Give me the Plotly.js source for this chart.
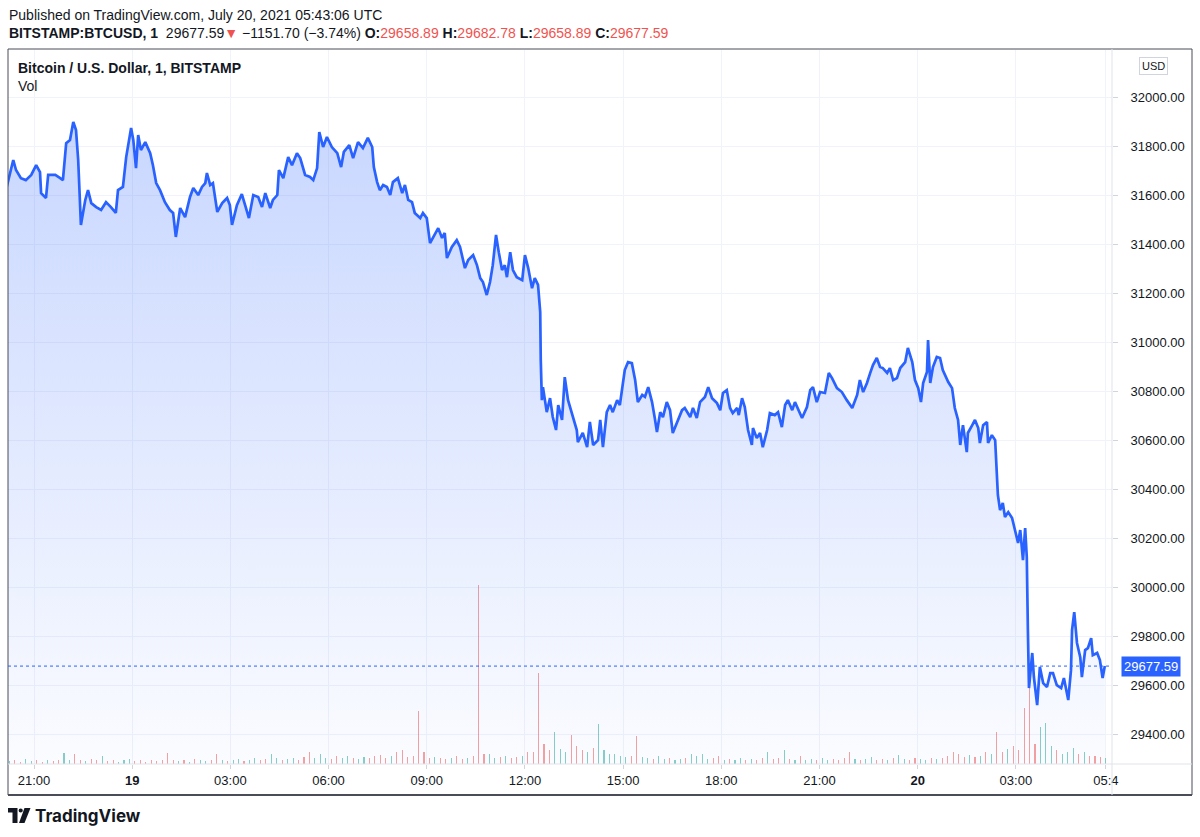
<!DOCTYPE html>
<html>
<head>
<meta charset="utf-8">
<script src="https://cdn.plot.ly/plotly-3.0.1.min.js"></script>
<style>
  html, body { margin: 0; padding: 0; background: #ffffff; }
  #chart { width: 1200px; height: 837px; }
</style>
</head>
<body>
<div id="chart"></div>
<script>
// ---------------- DATA ----------------
// minutes after 2021-07-18 20:00 UTC (BITSTAMP BTCUSD, 1-minute chart)
const minutes = [
  10,22,27,36,45,55,64,71,73,82,86,99,108,113,119,126,132,137,141,144,146,154,159,165,174,183,192,201,210,214,223,229,238,242,247,251,256,264,273,278,284,291,300,309,315,320,328,337,346,352,361,
  368,374,377,383,388,396,405,414,419,423,432,441,447,454,462,471,478,484,493,498,506,509,517,526,533,542,548,557,566,572,579,583,590,597,606,616,623,628,638,645,654,663,672,680,683,689,694,
  700,707,713,718,727,735,740,746,753,758,768,773,780,786,791,801,808,813,817,826,835,841,850,856,865,872,878,883,890,896,901,907,912,918,923,927,933,938,945,955,960,966,973,978,984,988,989,991,993,1000,
  1006,1011,1017,1021,1028,1033,1039,1048,1055,1057,1066,1074,1079,1085,1094,1098,1103,1110,1116,1121,1129,1134,1138,1143,1149,1156,1162,1167,1175,1180,1186,1193,1198,1202,1208,1213,1220,1226,1231,1239,1248,1253,1263,1268,1275,1281,1290,1296,1303,1312,1318,1323,1330,1336,1341,1349,1352,1358,1363,1369,1376,
  1378,1385,1391,1396,1404,1409,1418,1424,1431,1437,1442,1450,1455,1461,1468,1477,1483,1488,1495,1501,1510,1517,1523,1532,1541,1550,1560,1569,1574,1580,1587,1593,1598,1605,1611,1616,1624,1629,1635,1642,1648,1657,1662,1670,1675,1681,1686,1690,1697,1699,1703,1708,1715,1721,1726,1736,1743,1748,1754,1758,1763,
  1770,1772,1780,1785,1791,1794,1800,1807,1809,1816,1822,1825,1827,1831,1836,1840,1846,1853,1858,1864,1868,1873,1877,1880,1882,1884,1890,1893,1899,1904,1910,1917,1923,1928,1935,1943,1948,1954,1956,1961,1963,1967,1972,1978,1981,1987,1992,1998,2001,2009,2014,2019,2023
];
const prices = [
  31633,31743,31702,31669,31661,31682,31722,31694,31608,31588,31682,31682,31669,31661,31812,31825,31898,31865,31743,31580,31478,31580,31620,31567,31551,31539,31571,31551,31527,31620,31633,31755,31874,31825,31710,31845,31784,31816,31771,31722,31649,31620,31571,31539,31527,31429,31547,31510,31592,31629,31600,
  31633,31649,31690,31641,31649,31531,31567,31588,31559,31478,31559,31604,31559,31506,31600,31592,31551,31608,31547,31580,31600,31702,31669,31755,31722,31771,31751,31682,31674,31661,31710,31857,31796,31837,31796,31771,31714,31776,31804,31751,31816,31792,31833,31796,31714,31653,31620,
  31641,31633,31600,31653,31669,31608,31641,31580,31571,31527,31506,31527,31506,31404,31425,31465,31425,31445,31343,31388,31416,31388,31302,31335,31355,31314,31261,31245,31192,31245,31314,31437,31367,31294,31314,31265,31367,31294,31265,31253,31355,31302,31220,31261,31233,31122,30927,30763,30816,30714,
  30771,30694,30641,30743,30682,30857,30763,30694,30641,30592,30629,30571,30674,30580,30600,30682,30571,30714,30743,30714,30763,30743,30816,30886,30918,30914,30845,30755,30784,30776,30816,30755,30690,30633,30714,30694,30755,30722,30629,30674,30722,30731,30694,30731,30690,30755,30776,30816,30771,30751,30722,30792,30804,30731,30710,30731,30702,30771,30735,30641,30580,
  30649,30608,30629,30571,30641,30710,30702,30714,30653,30743,30763,30722,30755,30722,30690,30735,30804,30816,30755,30796,30792,30874,30853,30812,30796,30763,30731,30784,30845,30796,30833,30874,30906,30935,30898,30894,30874,30894,30845,30853,30894,30918,30976,30918,30845,30812,30755,30833,30878,31008,30833,30898,30939,30935,30886,30837,30812,30731,30682,30580,30661,
  30551,30629,30661,30682,30649,30588,30661,30674,30588,30620,30600,30490,30376,30314,30343,30286,30306,30282,30233,30180,30233,30110,30241,30122,29825,29588,29731,29633,29518,29674,29608,29592,29649,29649,29600,29588,29629,29559,29539,29661,29825,29898,29772,29714,29633,29743,29751,29792,29722,29731,29702,29629,29677.59
];
// volume (BTC) per 10-minute slot, slot i covers minutes [10i, 10i+10)
const volume = [
  2,1.5,2,1,2.5,1.5,2,1,2,1.5,2,5.5,2,5,2,1.5,2.5,2,4,1.5,
  2,1,2,2.5,1.5,2,1,2,1.5,2,5.5,2,1.5,2,1,2.5,2,1.5,2,5,
  2,1.5,2,2.5,1.5,2,3,2,2.5,5,3,2,2.5,3,2,3.5,6,3,5,3,
  2.5,4,3,4,3,2.5,3.5,3,4,4.5,3,4,6,7,3.5,4,26.5,6,3,3.5,
  3,2.5,3,4,2.5,3,4,89.5,5,5,3,3.5,4,3,3.5,4,6,6,45.5,10,
  7,16,7.5,6,14.5,9,7,6,8,20,7,5,5,4,3.5,4,14,3.5,3,2.5,
  4,2.5,3,2,2.5,3,5,4,5,2.5,3,4,2,2.5,2,3,2,2.5,2,3,
  6,2.5,3,7,2.5,2,4,2,2.5,2,3,2,2.5,2,3,6,2.5,2,2.5,3.5,
  2,2.5,2,3,4.5,2.5,2,3,2.5,2,3,2.5,3,4,6,5,3.5,4.5,3.5,4,
  6,5,16,6,7.5,9,7,28,38,10,18.5,20.5,9,7,5,6,8,5,6,4,
  4,3.5,3
];
const priceTicks = { start: 29400, step: 200 };
const timeTickVals = ['2021-07-18 21:00','2021-07-19 00:00','2021-07-19 03:00','2021-07-19 06:00','2021-07-19 09:00','2021-07-19 12:00','2021-07-19 15:00','2021-07-19 18:00','2021-07-19 21:00','2021-07-20 00:00','2021-07-20 03:00','2021-07-20 05:45'];
const timeTickText = ['21:00','<b>19</b>','03:00','06:00','09:00','12:00','15:00','18:00','21:00','<b>20</b>','03:00','05:4'];
const lastPrice = 29677.59;
const headerTitle = 'Published on TradingView.com, July 20, 2021 05:43:06 UTC';
const symbolText = 'BITSTAMP:BTCUSD, 1';
const changeText = '\u22121151.70 (\u22123.74%)';
const ohlc = [['O', '29658.89'], ['H', '29682.78'], ['L', '29658.89'], ['C', '29677.59']];
const legendTitle = 'Bitcoin / U.S. Dollar, 1, BITSTAMP';

// ---------------- HELPERS ----------------
const BASE = Date.UTC(2021, 6, 18, 20, 0, 0);
function toDate(m) {
  return new Date(BASE + m * 60000).toISOString().slice(0, 19).replace('T', ' ');
}
function priceAt(m) {
  if (m <= minutes[0]) return prices[0];
  for (let k = 1; k < minutes.length; k++) {
    if (m <= minutes[k]) {
      const t = (m - minutes[k - 1]) / (minutes[k] - minutes[k - 1]);
      return prices[k - 1] + t * (prices[k] - prices[k - 1]);
    }
  }
  return prices[prices.length - 1];
}
// layout geometry (pixels)
const W = 1200, H = 837;
const PL = 8, PR = 1112, PT = 50, PB = 764;
const px = x => (x - PL) / (PR - PL);
const py = y => (PB - y) / (PB - PT);

const times = minutes.map(toDate);
const volX = volume.map((v, i) => toDate(10 * i + 5));
const volColors = volume.map((v, i) =>
  priceAt(10 * i + 10) >= priceAt(10 * i) ? 'rgba(38,166,154,0.55)' : 'rgba(239,83,80,0.55)');

const RED = '#ef5350';
const DARK = '#131722';
const FONT = 'Liberation Sans, Arial, sans-serif';

// ---------------- TRACES ----------------
const volTrace = {
  type: 'bar', x: volX, y: volume, yaxis: 'y', xaxis: 'x',
  marker: { color: volColors, line: { width: 0 } },
  width: 120000, hoverinfo: 'skip', showlegend: false
};
const priceTrace = {
  type: 'scatter', mode: 'lines', x: times, y: prices, yaxis: 'y2', xaxis: 'x',
  line: { color: '#2962FF', width: 2.7, shape: 'linear' },
  fill: 'tozeroy',
  fillgradient: {
    type: 'vertical',
    start: 29278, stop: 31950,
    colorscale: [[0, 'rgba(41,98,255,0.02)'], [1, 'rgba(41,98,255,0.26)']]
  },
  hoverinfo: 'skip', showlegend: false
};

// ---------------- ANNOTATIONS ----------------
const line2 = '<b>' + symbolText + '</b>  29677.59<span style="color:' + RED + '">\u25BC</span> ' + changeText + ' ' +
  ohlc.map(o => '<b>' + o[0] + ':</b><span style="color:' + RED + '">' + o[1] + '</span>').join(' ');

const annotations = [
  { xref: 'paper', yref: 'paper', x: px(7), y: py(15), xanchor: 'left', yanchor: 'middle', showarrow: false,
    text: headerTitle, font: { family: FONT, size: 14, color: DARK } },
  { xref: 'paper', yref: 'paper', x: px(7), y: py(33), xanchor: 'left', yanchor: 'middle', showarrow: false,
    text: line2, font: { family: FONT, size: 14, color: DARK } },
  { xref: 'paper', yref: 'paper', x: px(16), y: py(68), xanchor: 'left', yanchor: 'middle', showarrow: false,
    text: '<b>' + legendTitle + '</b>', font: { family: FONT, size: 14, color: DARK } },
  { xref: 'paper', yref: 'paper', x: px(16), y: py(86), xanchor: 'left', yanchor: 'middle', showarrow: false,
    text: 'Vol', font: { family: FONT, size: 14, color: DARK } },
  { xref: 'paper', yref: 'paper', x: px(1153), y: py(66), xanchor: 'center', yanchor: 'middle', showarrow: false,
    text: 'USD', font: { family: FONT, size: 11, color: DARK }, bordercolor: '#d1d4dc', borderwidth: 1, borderpad: 2, bgcolor: '#ffffff' },
  { xref: 'paper', yref: 'y2', x: px(1151), y: lastPrice, xanchor: 'center', yanchor: 'middle', showarrow: false,
    text: lastPrice.toFixed(2), font: { family: FONT, size: 13, color: '#ffffff' }, bgcolor: '#2962FF', borderpad: 2 },
  { xref: 'paper', yref: 'paper', x: px(33), y: py(816), xanchor: 'left', yanchor: 'middle', showarrow: false,
    text: '<b>TradingView</b>', font: { family: 'Inter, Roboto, sans-serif', size: 17, color: DARK } }
];

// ---------------- SHAPES ----------------
const shapes = [
  // chart frame
  { type: 'rect', xref: 'paper', yref: 'paper', x0: px(8), x1: px(1192), y0: py(795), y1: py(49),
    line: { color: '#4a4d57', width: 1 }, fillcolor: 'rgba(0,0,0,0)', layer: 'above' },
  { type: 'line', xref: 'paper', yref: 'paper', x0: px(8), x1: px(1192), y0: py(795), y1: py(795),
    line: { color: '#4a4d57', width: 2 } },
  // separators between pane and scales
  { type: 'line', xref: 'paper', yref: 'paper', x0: 1, x1: 1, y0: py(795), y1: py(49),
    line: { color: '#e0e3eb', width: 1 } },
  { type: 'line', xref: 'paper', yref: 'paper', x0: 0, x1: px(1192), y0: 0, y1: 0,
    line: { color: '#e0e3eb', width: 1 } },
  // last price dotted line
  { type: 'line', xref: 'paper', yref: 'y2', x0: 0, x1: 1, y0: lastPrice, y1: lastPrice,
    line: { color: '#2962FF', width: 1, dash: 'dot' } },
  // TradingView logo mark
  { type: 'path', xref: 'paper', yref: 'paper',
    path: 'M' + px(8) + ',' + py(808) + ' L' + px(17.5) + ',' + py(808) + ' L' + px(17.5) + ',' + py(823) +
          ' L' + px(12.5) + ',' + py(823) + ' L' + px(12.5) + ',' + py(812.5) + ' L' + px(8) + ',' + py(812.5) + ' Z',
    fillcolor: DARK, line: { width: 0 } },
  { type: 'circle', xref: 'paper', yref: 'paper', x0: px(18.6), x1: px(22.8), y0: py(812.6), y1: py(808.4),
    fillcolor: DARK, line: { width: 0 } },
  { type: 'path', xref: 'paper', yref: 'paper',
    path: 'M' + px(24.5) + ',' + py(808) + ' L' + px(30.5) + ',' + py(808) + ' L' + px(24.5) + ',' + py(823) +
          ' L' + px(19) + ',' + py(823) + ' Z',
    fillcolor: DARK, line: { width: 0 } }
];

// ---------------- LAYOUT ----------------
const layout = {
  width: W, height: H,
  margin: { l: PL, r: W - PR, t: PT, b: H - PB, pad: 0 },
  paper_bgcolor: '#ffffff', plot_bgcolor: '#ffffff',
  showlegend: false, bargap: 0,
  font: { family: FONT, size: 13, color: DARK },
  xaxis: {
    type: 'date',
    range: [toDate(12.34), toDate(2036.2)],
    tickvals: timeTickVals, ticktext: timeTickText,
    showgrid: true, gridcolor: '#f0f3fa', gridwidth: 1,
    ticks: 'outside', ticklen: 4, tickcolor: '#d1d4dc',
    tickfont: { family: FONT, size: 13, color: DARK },
    showline: false, zeroline: false, fixedrange: true
  },
  yaxis: {
    range: [0, 357], visible: false, showgrid: false, zeroline: false, fixedrange: true
  },
  yaxis2: {
    overlaying: 'y', side: 'right', anchor: 'x',
    range: [29278, 32192],
    tick0: priceTicks.start, dtick: priceTicks.step, tickformat: '.2f',
    showgrid: true, gridcolor: '#f0f3fa', gridwidth: 1,
    ticks: 'outside', ticklen: 5, tickcolor: '#d1d4dc',
    ticklabelstandoff: 10,
    tickfont: { family: FONT, size: 13, color: DARK },
    showline: false, zeroline: false, fixedrange: true
  },
  annotations: annotations,
  shapes: shapes
};

Plotly.newPlot('chart', [volTrace, priceTrace], layout, { displayModeBar: false, staticPlot: true });
</script>
</body>
</html>
